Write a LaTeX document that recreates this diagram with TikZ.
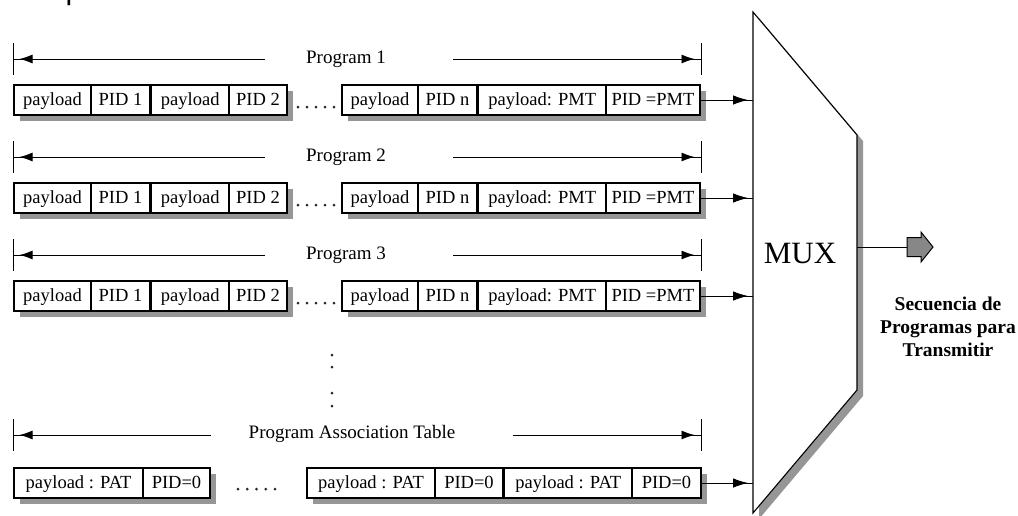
\documentclass[tikz,border=0pt]{standalone}
\usepackage{fontspec}
\setmainfont{Liberation Serif}
\newfontfamily\titlesans{Liberation Sans}
\usetikzlibrary{arrows.meta,decorations.markings}

\newcommand\cellfont{\fontsize{18.5}{20}\selectfont}
\newcommand\progfont{\fontsize{19}{21}\selectfont}
\newcommand\muxfont{\fontsize{31}{33}\selectfont}
\newcommand\outfont{\bfseries\fontsize{19.5}{23}\selectfont}

\definecolor{shadowgray}{RGB}{150,150,150}
\definecolor{arrowgray}{RGB}{135,135,135}

\begin{document}
\begin{tikzpicture}[x=1pt,y=-1pt,
  cell/.style={draw, line width=1.1pt, fill=white, minimum height=30pt,
    inner sep=0pt, text height=13.5pt, text depth=3pt, font=\cellfont},
  shadowbox/.style={fill=shadowgray},
  tickline/.style={line width=1pt},
  dimline/.style={line width=0.9pt, postaction={decorate, decoration={markings,
      mark=at position -6.5pt with {\arrow{Latex[length=13pt,width=9pt]}}}}},
  feed/.style={line width=0.9pt, postaction={decorate, decoration={markings,
      mark=at position -5pt with {\arrow{Latex[length=15pt,width=9.5pt]}}}}},
  proglabel/.style={font=\progfont, inner sep=0pt},
  dot/.style={fill=black!85},
]
\useasboundingbox (0,0) rectangle (1018,515);
\clip (0,0) rectangle (1018,515);

% heading above the figure, cut by the page edge
\node[anchor=base west, inner sep=0pt, font=\titlesans\fontsize{30}{30}\selectfont]
  (heading) at (7,-1) {reception};

% ---------- multiplexer ----------
\fill[shadowgray] (759,18) -- (863,141) -- (863,396) -- (759,519) -- cycle;
\draw[line width=1.1pt, fill=white] (753,12) -- (857,135) -- (857,390) -- (753,513) -- cycle;
\node[font=\muxfont, inner sep=0pt] (mux) at (800,253) {MUX};

% ---------- program streams ----------
\foreach \r/\lab in {1/Program 1, 2/Program 2, 3/Program 3} {
  \pgfmathsetmacro\t{85+98*(\r-1)}
  \pgfmathsetmacro\c{\t+15}
  \pgfmathsetmacro\L{59+98*(\r-1)}
  % span line with title
  \draw[tickline] (13,\L-16) -- (13,\L+16);
  \draw[tickline] (701,\L-16) -- (701,\L+16);
  \coordinate (tl\r) at (13,\L);
  \coordinate (tr\r) at (701,\L);
  \coordinate (gl\r) at (265,\L);
  \coordinate (gr\r) at (453,\L);
  \node[proglabel] (lab\r) at (346,\L) {\lab};
  \draw[dimline] (gl\r) -- (tl\r);
  \draw[dimline] (gr\r) -- (tr\r);
  % packet shadows
  \fill[shadowbox] (20,\t+6) rectangle (293,\t+36);
  \fill[shadowbox] (348,\t+6) rectangle (706,\t+36);
  % packets
  \node[cell, minimum width=77pt] (p1r\r) at (52.5,\c) {payload};
  \node[cell, minimum width=59pt] (i1r\r) at (120.5,\c) {PID 1};
  \node[cell, minimum width=77.5pt] (p2r\r) at (190.25,\c) {payload};
  \node[cell, minimum width=58pt] (i2r\r) at (258,\c) {PID 2};
  \node[cell, minimum width=76pt] (pnr\r) at (380,\c) {payload};
  \node[cell, minimum width=59pt] (inr\r) at (447.5,\c) {PID n};
  \node[cell, minimum width=127.5pt] (pmr\r) at (542.25,\c) {payload: PMT};
  \node[cell, minimum width=94pt] (imr\r) at (653,\c) {PID =PMT};
  \foreach \k in {0,...,4} \fill[dot] (298+9*\k,\t+22) circle (1.5pt);
  % feed into the multiplexer
  \coordinate (in\r) at (753,\c);
  \draw[feed] (imr\r.east) -- (in\r);
}

% ---------- vertical ellipsis ----------
\foreach \y in {355,367,393,406} \fill[dot] (332,\y) circle (1.5pt);

% ---------- program association table ----------
\draw[tickline] (13,419) -- (13,451);
\draw[tickline] (701,419) -- (701,451);
\coordinate (tl4) at (13,435);
\coordinate (tr4) at (701,435);
\coordinate (gl4) at (211,435);
\coordinate (gr4) at (513,435);
\node[proglabel] (lab4) at (352,434) {Program Association Table};
\draw[dimline] (gl4) -- (tl4);
\draw[dimline] (gr4) -- (tr4);

\fill[shadowbox] (20,474) rectangle (216,504);
\fill[shadowbox] (313,474) rectangle (707,504);
\node[cell, minimum width=129pt] (pa1) at (78.5,483) {payload : PAT};
\node[cell, minimum width=67pt] (ia1) at (176.5,483) {PID=0};
\node[cell, minimum width=128pt] (pa2) at (371,483) {payload : PAT};
\node[cell, minimum width=68pt] (ia2) at (469,483) {PID=0};
\node[cell, minimum width=127.5pt] (pa3) at (568.25,483) {payload : PAT};
\node[cell, minimum width=69pt] (ia3) at (666.5,483) {PID=0};
\foreach \k in {0,...,4} \fill[dot] (238+9.25*\k,489) circle (1.5pt);
\coordinate (in4) at (753,483);
\draw[feed] (ia3.east) -- (in4);

% ---------- multiplexed output ----------
\coordinate (muxout) at (857,247);
\coordinate (outtail) at (907,247);
\draw[line width=1pt] (muxout) -- (outtail);
\draw[line width=1pt, fill=arrowgray] (907,237.5) -- (921,237.5) -- (921,232)
  -- (933,247) -- (921,262) -- (921,256.5) -- (907,256.5) -- cycle;
\node[font=\outfont, align=center, inner sep=0pt] (outtext) at (948,327)
  {Secuencia de\\Programas para\\Transmitir};
\end{tikzpicture}
\end{document}
